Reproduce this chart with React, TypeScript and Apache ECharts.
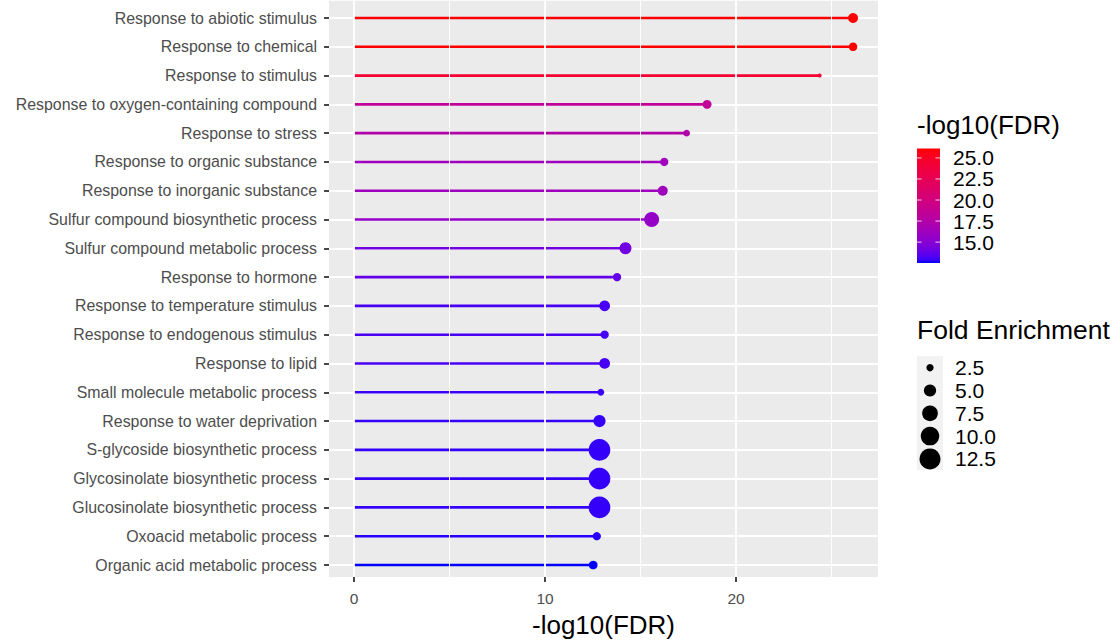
import React, { useEffect, useRef } from "react";
import * as echarts from "echarts";

const categories = [
  "Response to abiotic stimulus",
  "Response to chemical",
  "Response to stimulus",
  "Response to oxygen-containing compound",
  "Response to stress",
  "Response to organic substance",
  "Response to inorganic substance",
  "Sulfur compound biosynthetic process",
  "Sulfur compound metabolic process",
  "Response to hormone",
  "Response to temperature stimulus",
  "Response to endogenous stimulus",
  "Response to lipid",
  "Small molecule metabolic process",
  "Response to water deprivation",
  "S-glycoside biosynthetic process",
  "Glycosinolate biosynthetic process",
  "Glucosinolate biosynthetic process",
  "Oxoacid metabolic process",
  "Organic acid metabolic process",
];

const fdrValues = [
  26.12, 26.12, 24.37, 18.48, 17.41, 16.24, 16.16, 15.58, 14.21, 13.77,
  13.12, 13.12, 13.12, 12.92, 12.85, 12.85, 12.85, 12.85, 12.71, 12.52,
];

const foldValues = [
  3.7, 3.0, 1.55, 3.2, 2.3, 2.9, 3.7, 6.9, 4.85, 2.9,
  4.1, 2.9, 4.1, 2.3, 5.0, 13.3, 13.3, 13.3, 2.9, 3.1,
];

const xMajorTicks = [0, 10, 20];
const xMinorTicks = [5, 15, 25];
const colorTicks = [15, 17.5, 20, 22.5, 25];
const sizeTicks = [2.5, 5, 7.5, 10, 12.5];
const lowColor = [0, 0, 255];
const highColor = [255, 0, 0];

const FONT = "'Liberation Sans', Arial, Helvetica, sans-serif";

function sizeFn(f: number): number {
  return Math.sqrt(Math.max(4, 38.8 * f - 44));
}

// --- Lab colour interpolation (like ggplot2's gradient scale) ---
const WX = 0.95047, WY = 1.0, WZ = 1.08883;
function toLin(c: number) {
  c /= 255;
  return c <= 0.04045 ? c / 12.92 : Math.pow((c + 0.055) / 1.055, 2.4);
}
function fromLin(c: number) {
  const v = c <= 0.0031308 ? 12.92 * c : 1.055 * Math.pow(c, 1 / 2.4) - 0.055;
  return Math.round(Math.min(1, Math.max(0, v)) * 255);
}
function rgbToLab(rgb: number[]) {
  const [r, g, b] = rgb.map(toLin);
  const X = (0.4124 * r + 0.3576 * g + 0.1805 * b) / WX;
  const Y = (0.2126 * r + 0.7152 * g + 0.0722 * b) / WY;
  const Z = (0.0193 * r + 0.1192 * g + 0.9505 * b) / WZ;
  const f = (t: number) => (t > 0.008856 ? Math.cbrt(t) : 7.787 * t + 16 / 116);
  const fx = f(X), fy = f(Y), fz = f(Z);
  return [116 * fy - 16, 500 * (fx - fy), 200 * (fy - fz)];
}
function labToHex(lab: number[]) {
  const [L, a, b] = lab;
  const fy = (L + 16) / 116;
  const fx = fy + a / 500;
  const fz = fy - b / 200;
  const inv = (t: number) => (t * t * t > 0.008856 ? t * t * t : (t - 16 / 116) / 7.787);
  const X = inv(fx) * WX, Y = inv(fy) * WY, Z = inv(fz) * WZ;
  const r = 3.2406 * X - 1.5372 * Y - 0.4986 * Z;
  const g = -0.9689 * X + 1.8758 * Y + 0.0415 * Z;
  const bl = 0.0557 * X - 0.204 * Y + 1.057 * Z;
  return "#" + [r, g, bl].map((c) => fromLin(c).toString(16).padStart(2, "0")).join("");
}
const labLow = rgbToLab(lowColor);
const labHigh = rgbToLab(highColor);
function colorAt(t: number) {
  const tt = Math.min(1, Math.max(0, t));
  return labToHex(labLow.map((v, i) => v + (labHigh[i] - v) * tt));
}

export default function App() {
  const ref = useRef<HTMLDivElement>(null);

  useEffect(() => {
    if (!ref.current) return;
    const chart = echarts.init(ref.current, null, { renderer: "svg" });

    const dataMax = Math.max(...fdrValues);
    const dataMin = Math.min(...fdrValues);
    const pad = 0.05 * dataMax;
    const xMin = -pad;
    const xMax = dataMax + pad;
    const colorOf = (v: number) => colorAt((v - dataMin) / (dataMax - dataMin));

    const n = categories.length;
    const gridLeft = 329;
    const gridRight = 241;
    const rowTop = 18;
    const rowBottom = 78;
    const band = (643 - rowTop - rowBottom) / (n - 1);
    const panelTop = rowTop - 0.6 * band;
    const panelBottom = rowBottom - 0.6 * band;

    // colorbar geometry
    const cbX = 917;
    const cbY = 148.5;
    const cbW = 23;
    const cbH = 114.5;
    const cbPos = (v: number) => cbY + ((dataMax - v) / (dataMax - dataMin)) * cbH;

    const gradStops: any[] = [];
    for (let k = 0; k <= 40; k++) {
      gradStops.push({ offset: k / 40, color: colorAt(1 - k / 40) });
    }

    const graphics: any[] = [
      {
        type: "text",
        left: 917,
        top: 112,
        style: { text: "-log10(FDR)", fontSize: 26, fontFamily: FONT, fill: "#000" },
      },
      {
        type: "rect",
        shape: { x: cbX, y: cbY, width: cbW, height: cbH },
        style: {
          fill: new echarts.graphic.LinearGradient(0, 0, 0, 1, gradStops),
        },
      },
    ];
    colorTicks.forEach((v) => {
      const y = cbPos(v);
      graphics.push(
        {
          type: "line",
          shape: { x1: cbX, y1: y, x2: cbX + 4.6, y2: y },
          style: { stroke: "rgba(255,255,255,0.8)", lineWidth: 1 },
        },
        {
          type: "line",
          shape: { x1: cbX + cbW - 4.6, y1: y, x2: cbX + cbW, y2: y },
          style: { stroke: "rgba(255,255,255,0.8)", lineWidth: 1 },
        },
        {
          type: "text",
          x: 953,
          y,
          style: {
            text: v.toFixed(1),
            fontSize: 21,
            fontFamily: FONT,
            fill: "#000",
            verticalAlign: "middle",
          },
        }
      );
    });

    graphics.push(
      {
        type: "text",
        left: 917,
        top: 316,
        style: { text: "Fold Enrichment", fontSize: 26.5, fontFamily: FONT, fill: "#000" },
      },
      {
        type: "rect",
        shape: { x: 917, y: 356, width: 26, height: 114 },
        style: { fill: "#F2F2F2" },
      }
    );
    sizeTicks.forEach((v, i) => {
      const y = 367.7 + i * 22.8;
      graphics.push(
        {
          type: "circle",
          shape: { cx: 930, cy: y, r: sizeFn(v) / 2 },
          style: { fill: "#000" },
        },
        {
          type: "text",
          x: 955,
          y,
          style: {
            text: v.toFixed(1),
            fontSize: 21,
            fontFamily: FONT,
            fill: "#000",
            verticalAlign: "middle",
          },
        }
      );
    });

    const option: any = {
      animation: false,
      textStyle: { fontFamily: FONT },
      grid: [
        {
          left: gridLeft,
          right: gridRight,
          top: panelTop,
          bottom: panelBottom,
          show: true,
          backgroundColor: "#EBEBEB",
          borderWidth: 0,
        },
        {
          left: gridLeft,
          right: gridRight,
          top: rowTop,
          bottom: rowBottom,
        },
      ],
      xAxis: [
        {
          type: "value",
          gridIndex: 0,
          min: xMin,
          max: xMax,
          position: "bottom",
          axisLine: { show: false, onZero: false },
          splitLine: { show: false },
          axisTick: {
            show: true,
            customValues: xMajorTicks,
            length: 5,
            lineStyle: { color: "#333333", width: 1.8 },
          },
          axisLabel: {
            customValues: xMajorTicks,
            fontSize: 15.5,
            color: "#4D4D4D",
            fontFamily: FONT,
            margin: 13,
          },
          name: "-log10(FDR)",
          nameLocation: "middle",
          nameGap: 35,
          nameTextStyle: { fontSize: 26, color: "#000", fontFamily: FONT },
        },
        {
          type: "value",
          gridIndex: 1,
          min: xMin,
          max: xMax,
          show: false,
          axisLine: { show: false, onZero: false },
          splitLine: { show: false },
        },
      ],
      yAxis: [
        {
          type: "value",
          gridIndex: 0,
          min: 0,
          max: 1,
          show: false,
          axisLine: { show: false, onZero: false },
          splitLine: { show: false },
        },
        {
          type: "category",
          gridIndex: 1,
          data: categories,
          inverse: true,
          boundaryGap: false,
          position: "left",
          axisLine: { show: false, onZero: false },
          axisTick: {
            show: true,
            length: 5,
            lineStyle: { color: "#333333", width: 1.8 },
          },
          axisLabel: {
            interval: 0,
            fontSize: 15.9,
            color: "#4D4D4D",
            fontFamily: FONT,
            margin: 12,
          },
          splitLine: { show: true, lineStyle: { color: "#FFFFFF", width: 1.8 } },
        },
      ],
      series: [
        {
          type: "line",
          xAxisIndex: 0,
          yAxisIndex: 0,
          data: [],
          silent: true,
          z: 1,
          markLine: {
            silent: true,
            symbol: "none",
            label: { show: false },
            lineStyle: { color: "#FFFFFF", type: "solid" },
            data: [
              ...xMajorTicks.map((v) => ({ xAxis: v, lineStyle: { width: 1.8, color: "#FFFFFF", type: "solid" } })),
              ...xMinorTicks.map((v) => ({ xAxis: v, lineStyle: { width: 0.9, color: "#FFFFFF", type: "solid" } })),
            ],
          },
        },
        {
          type: "bar",
          xAxisIndex: 1,
          yAxisIndex: 1,
          barWidth: 2.6,
          z: 3,
          encode: { x: 0, y: 1 },
          data: fdrValues.map((v, i) => ({
            value: [v, i],
            itemStyle: { color: colorOf(v) },
          })),
        },
        {
          type: "scatter",
          xAxisIndex: 1,
          yAxisIndex: 1,
          z: 4,
          symbol: "circle",
          encode: { x: 0, y: 1 },
          symbolSize: (d: number[]) => sizeFn(d[2]),
          data: fdrValues.map((v, i) => ({
            value: [v, i, foldValues[i]],
            itemStyle: { color: colorOf(v), opacity: 1 },
          })),
        },
      ],
      graphic: graphics,
    };

    chart.setOption(option);
    return () => chart.dispose();
  }, []);

  return (
    <div
      ref={ref}
      style={{ position: "fixed", left: 0, top: 0, width: 1119, height: 643, background: "#fff" }}
    />
  );
}
